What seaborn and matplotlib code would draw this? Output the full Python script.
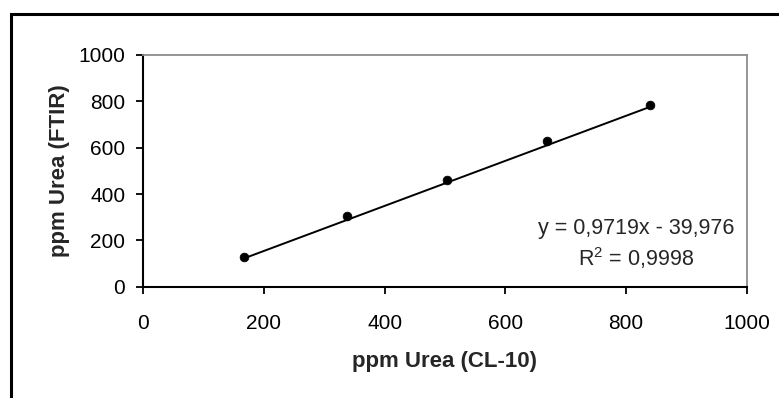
import matplotlib
matplotlib.use("Agg")
import matplotlib.pyplot as plt
import seaborn as sns
import pandas as pd
import numpy as np
from matplotlib.patches import Rectangle

# Data
cl10 = [167, 337, 503, 669, 839]
ftir = [129, 304, 459, 629, 786]
slope = 0.9719
intercept = -39.976
eq_text = "y = 0,9719x - 39,976"
r2_text = "R$^2$ = 0,9998"
x_ticks = [0, 200, 400, 600, 800, 1000]
y_ticks = [0, 200, 400, 600, 800, 1000]
x_label = "ppm Urea (CL-10)"
y_label = "ppm Urea (FTIR)"

sns.set_theme(style="white")
plt.rcParams['font.family'] = ['Liberation Sans', 'DejaVu Sans']
plt.rcParams['mathtext.fontset'] = 'custom'
plt.rcParams['mathtext.rm'] = 'Liberation Sans'

df = pd.DataFrame({"x": cl10, "y": ftir})

fig = plt.figure(figsize=(7.79, 3.98), dpi=100)
ax = fig.add_axes([143.3/779, 1-286.7/398, (746.7-143.3)/779, (286.7-55)/398])

# Trend line
xl = np.array([min(cl10), max(cl10)])
ax.plot(xl, slope*xl + intercept, color="black", lw=1.4, zorder=2)
sns.scatterplot(data=df, x="x", y="y", ax=ax, color="black", s=40,
                edgecolor="black", linewidth=0.5, zorder=3, legend=False)

ax.set_xlim(0, 1000)
ax.set_ylim(0, 1000)
ax.set_xticks(x_ticks)
ax.set_yticks(y_ticks)
ax.set_xticklabels([str(t) for t in x_ticks])
ax.set_yticklabels([str(t) for t in y_ticks])

for s in ["left", "bottom"]:
    ax.spines[s].set_color("black")
    ax.spines[s].set_linewidth(1.5)
for s in ["top", "right"]:
    ax.spines[s].set_color("#8c8c8c")
    ax.spines[s].set_linewidth(1.3)

ax.tick_params(axis="x", direction="out", length=5, width=1.3, color="black",
               bottom=True, pad=15, labelsize=15, labelcolor="black")
ax.tick_params(axis="y", direction="out", length=5, width=1.3, color="black",
               left=True, pad=8, labelsize=15, labelcolor="black")

ax.set_xlabel("")
ax.set_ylabel("")
fig.text(445/779, 1-362/398, x_label, ha="center", va="center",
         fontsize=16, fontweight="bold")
fig.text(59/779, 1-171/398, y_label, ha="center", va="center",
         fontsize=16, fontweight="bold", rotation=90)

ax.text(636/779, 1-228/398, eq_text, transform=fig.transFigure,
        ha="center", va="center", fontsize=15.5)
ax.text(636/779, 1-258/398, r2_text, transform=fig.transFigure,
        ha="center", va="center", fontsize=15.5)

# Outer chart border (cut at right and bottom)
fig.patches.append(Rectangle((11/779, -0.05), 790/779, 1-14/398+0.05,
                             transform=fig.transFigure, fill=False,
                             edgecolor="black", linewidth=2.2))

fig.savefig("out.png", dpi=100)
